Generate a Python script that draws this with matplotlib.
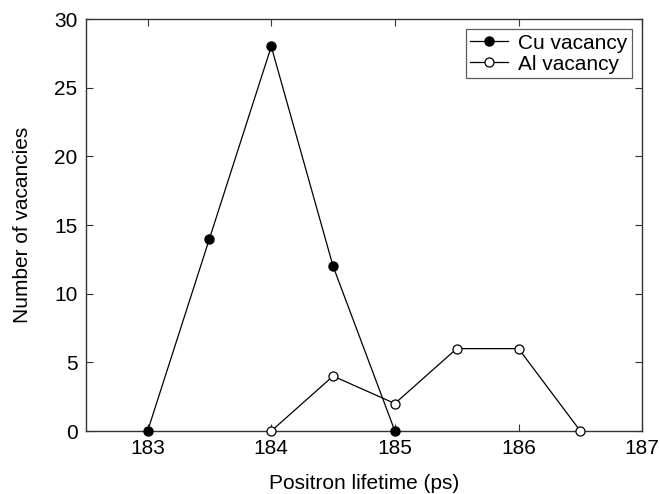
import numpy as np
import matplotlib.pyplot as plt

# positron lifetime (ps) vs number of vacancies
cu_lifetime = [183.0, 183.5, 184.0, 184.5, 185.0]
cu_count = [0, 14, 28, 12, 0]
al_lifetime = [184.0, 184.5, 185.0, 185.5, 186.0, 186.5]
al_count = [0, 4, 2, 6, 6, 0]

x_ticks = [183, 184, 185, 186, 187]
y_ticks = [0, 5, 10, 15, 20, 25, 30]

plt.rcParams['font.family'] = ['Liberation Sans', 'DejaVu Sans']

fig = plt.figure(figsize=(6.6, 4.94), dpi=100)
ax = fig.add_axes([0.130, 0.1275, 0.843, 0.834])

ax.plot(cu_lifetime, cu_count, '-o', color='black', linewidth=0.9,
	markersize=6.5, markerfacecolor='black', markeredgecolor='black',
	label='Cu vacancy', clip_on=False, zorder=3)
ax.plot(al_lifetime, al_count, '-o', color='black', linewidth=0.9,
	markersize=6.5, markerfacecolor='white', markeredgecolor='black',
	markeredgewidth=0.9, label='Al vacancy', clip_on=False, zorder=3)

ax.set_xlim(182.5, 187)
ax.set_ylim(0, 30)
ax.set_xticks(x_ticks)
ax.set_yticks(y_ticks)
ax.tick_params(direction='in', top=True, right=True, labelsize=15,
	length=5, width=0.8, colors='#333333', labelcolor='black', pad=6)
for s in ax.spines.values():
	s.set_linewidth(1.0)
	s.set_color('#333333')

ax.set_xlabel('Positron lifetime (ps)', fontsize=15, labelpad=11)
ax.set_ylabel('Number of vacancies', fontsize=15, labelpad=16)

leg = ax.legend(loc='upper right', fontsize=15, frameon=True, fancybox=False,
	edgecolor='#333333', handlelength=1.8, borderpad=0.2, labelspacing=0.1,
	handletextpad=0.5, borderaxespad=0.5)
leg.get_frame().set_linewidth(0.9)

fig.savefig('out.png', dpi=100, facecolor='white')
